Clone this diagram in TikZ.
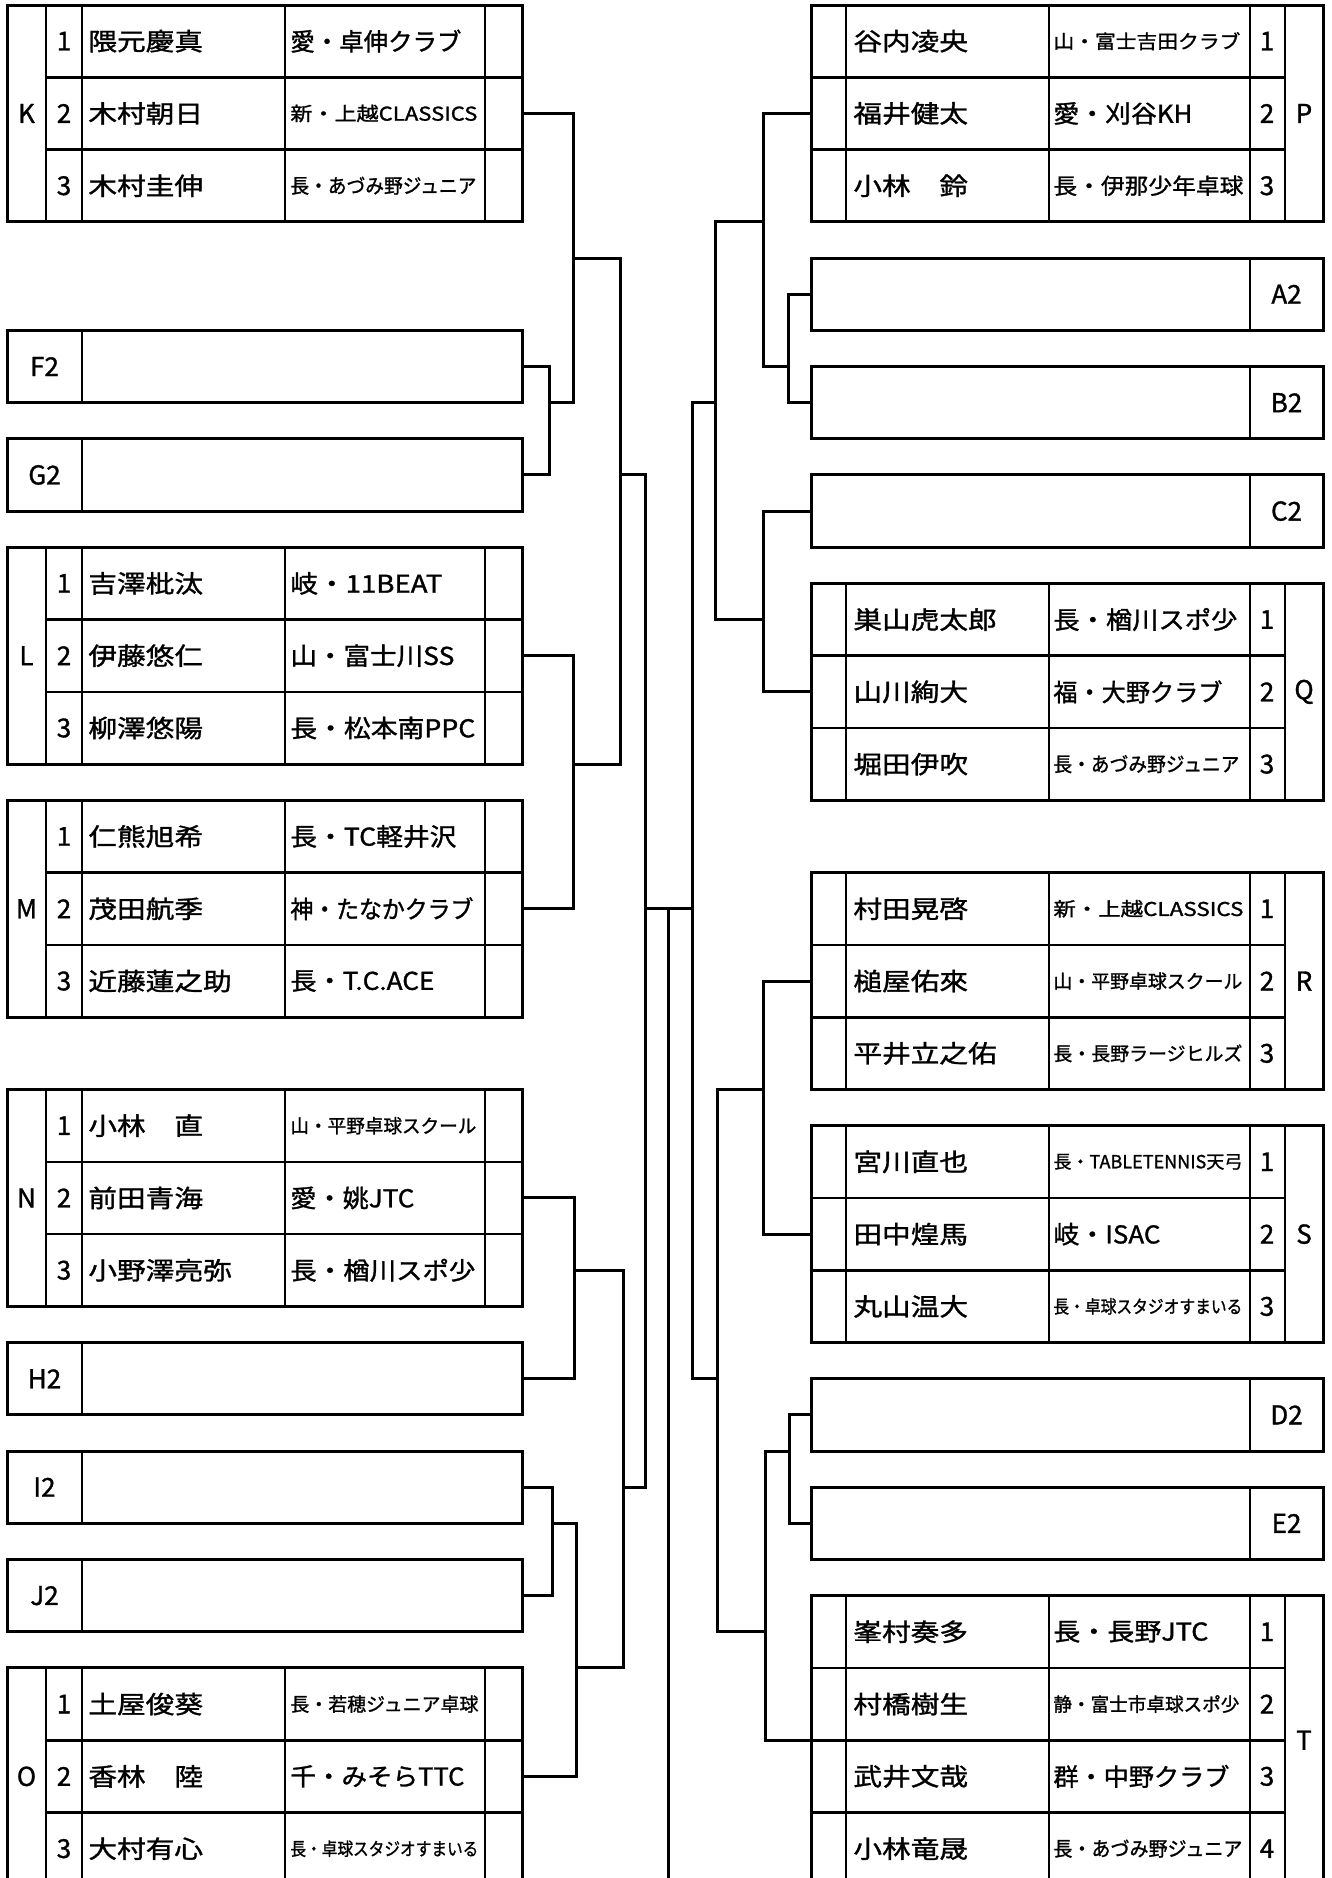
\documentclass[tikz,border=0pt]{standalone}
\usepackage{fontspec}
\usepackage{graphicx}
\setmainfont{Noto Sans CJK JP}
\newfontfamily\jpc[BoldFont={Noto Sans CJK JP}, BoldFeatures={FakeBold=1.2}]{Noto Sans CJK JP}
\usetikzlibrary{fit}

\newcommand\nm[1]{\scalebox{1.17}[1]{\fontsize{12.25pt}{12.25pt}\jpc\bfseries #1}}
\newcommand\cb[3]{\resizebox{#1pt}{\height}{\fontsize{#2pt}{#2pt}\jpc\bfseries #3}}

\tikzset{
  boxframe/.style={draw, line width=1.5pt, inner sep=0pt, outer sep=0pt},
  gridline/.style={line width=1.3pt},
  connector/.style={line width=1.5pt},
  lbl/.style={inner sep=0pt, font=\fontsize{13pt}{13pt}\jpc\bfseries},
  txt/.style={anchor=west, inner sep=0pt},
}

% left group with 3 rows: name, top k, letter
\newcommand\LGrp[3]{%
  \coordinate (#1-a) at (7,#2);
  \coordinate (#1-b) at (522,#2+6);
  \node[boxframe, fit=(#1-a)(#1-b)] (#1) {};
  \draw[gridline] (46,#2) -- (46,#2+6) (82,#2) -- (82,#2+6)
    (285,#2) -- (285,#2+6) (485,#2) -- (485,#2+6)
    (46,#2+2) -- (522,#2+2) (46,#2+4) -- (522,#2+4);
  \node[lbl] (#1-g) at (26.5,#2+3) {#3};
  \node[lbl] (#1-1) at (64,#2+1) {1};
  \node[lbl] (#1-2) at (64,#2+3) {2};
  \node[lbl] (#1-3) at (64,#2+5) {3};
}
% right group: name, top k, letter, rows
\newcommand\RGrp[4]{%
  \coordinate (#1-a) at (811,#2);
  \coordinate (#1-b) at (1323,#2+2*#4);
  \node[boxframe, fit=(#1-a)(#1-b)] (#1) {};
  \draw[gridline] (846,#2) -- (846,#2+2*#4) (1049,#2) -- (1049,#2+2*#4)
    (1250,#2) -- (1250,#2+2*#4) (1285,#2) -- (1285,#2+2*#4);
  \foreach \i in {1,...,#4} {\node[lbl] (#1-\i) at (1267,#2+2*\i-1) {\i};}
  \foreach \i in {2,...,#4} {\draw[gridline] (811,#2+2*\i-2) -- (1285,#2+2*\i-2);}
  \node[lbl] (#1-g) at (1304,#2+#4) {#3};
}
\newcommand\LPair[3]{%
  \coordinate (#1-a) at (7,#2);
  \coordinate (#1-b) at (522,#2+2);
  \node[boxframe, fit=(#1-a)(#1-b)] (#1) {};
  \draw[gridline] (82,#2) -- (82,#2+2);
  \node[lbl] (#1-g) at (44.5,#2+1) {#3};
}
\newcommand\RPair[3]{%
  \coordinate (#1-a) at (811,#2);
  \coordinate (#1-b) at (1323,#2+2);
  \node[boxframe, fit=(#1-a)(#1-b)] (#1) {};
  \draw[gridline] (1250,#2) -- (1250,#2+2);
  \node[lbl] (#1-g) at (1286.5,#2+1) {#3};
}

\begin{document}
\begin{tikzpicture}[x=0.5pt, y=-18.075pt]
\useasboundingbox (0,0) rectangle (1332,51.95);
\fill[white] (0,0) rectangle (1332,51.95);
\clip (0,0) rectangle (1332,51.95);
\begin{scope}[yshift=-2.5pt]

% ---------------- left side ----------------
\LGrp{K}{0}{K}
\node[txt] (K-n1) at (88,1) {\nm{隈元慶真}};
\node[txt] (K-n2) at (88,3) {\nm{木村朝日}};
\node[txt] (K-n3) at (88,5) {\nm{木村圭伸}};
\node[txt] (K-c1) at (290,1) {\cb{85.5}{12.25}{愛・卓伸クラブ}};
\node[txt] (K-c2) at (290,3) {\cb{93.5}{9.5}{新・上越CLASSICS}};
\node[txt] (K-c3) at (290,5) {\cb{93}{10}{長・あづみ野ジュニア}};

\LPair{F2}{9}{F2}
\LPair{G2}{12}{G2}

\LGrp{L}{15}{L}
\node[txt] (L-n1) at (88,16) {\nm{吉澤枇汰}};
\node[txt] (L-n2) at (88,18) {\nm{伊藤悠仁}};
\node[txt] (L-n3) at (88,20) {\nm{柳澤悠陽}};
\node[txt] (L-c1) at (290,16) {\cb{76}{12.25}{岐・11BEAT}};
\node[txt] (L-c2) at (290,18) {\cb{82}{12.25}{山・富士川SS}};
\node[txt] (L-c3) at (290,20) {\cb{92.5}{12.25}{長・松本南PPC}};

\LGrp{M}{22}{M}
\node[txt] (M-n1) at (88,23) {\nm{仁熊旭希}};
\node[txt] (M-n2) at (88,25) {\nm{茂田航季}};
\node[txt] (M-n3) at (88,27) {\nm{近藤蓮之助}};
\node[txt] (M-c1) at (290,23) {\cb{83}{12.25}{長・TC軽井沢}};
\node[txt] (M-c2) at (290,25) {\cb{91.5}{12.25}{神・たなかクラブ}};
\node[txt] (M-c3) at (290,27) {\cb{72}{12.25}{長・T.C.ACE}};

\LGrp{N}{30}{N}
\node[txt] (N-n1) at (88,31) {\nm{小林　直}};
\node[txt] (N-n2) at (88,33) {\nm{前田青海}};
\node[txt] (N-n3) at (88,35) {\nm{小野澤亮弥}};
\node[txt] (N-c1) at (290,31) {\cb{93}{9.5}{山・平野卓球スクール}};
\node[txt] (N-c2) at (290,33) {\cb{62}{12.25}{愛・姚JTC}};
\node[txt] (N-c3) at (290,35) {\cb{92.5}{12.25}{長・楢川スポ少}};

\LPair{H2}{37}{H2}
\LPair{I2}{40}{I2}
\LPair{J2}{43}{J2}

\LGrp{O}{46}{O}
\node[txt] (O-n1) at (88,47) {\nm{土屋俊葵}};
\node[txt] (O-n2) at (88,49) {\nm{香林　陸}};
\node[txt] (O-n3) at (88,51) {\nm{大村有心}};
\node[txt] (O-c1) at (290,47) {\cb{94}{9.5}{長・若穂ジュニア卓球}};
\node[txt] (O-c2) at (290,49) {\cb{87}{12.25}{千・みそらTTC}};
\node[txt] (O-c3) at (290,51) {\cb{94}{9}{長・卓球スタジオすまいる}};

% ---------------- right side ----------------
\RGrp{P}{0}{P}{3}
\node[txt] (P-n1) at (853,1) {\nm{谷内凌央}};
\node[txt] (P-n2) at (853,3) {\nm{福井健太}};
\node[txt] (P-n3) at (853,5) {\nm{小林　鈴}};
\node[txt] (P-c1) at (1053,1) {\cb{93.5}{9.5}{山・富士吉田クラブ}};
\node[txt] (P-c2) at (1053,3) {\cb{69.5}{12.25}{愛・刈谷KH}};
\node[txt] (P-c3) at (1053,5) {\cb{95}{11}{長・伊那少年卓球}};

\RPair{A2}{7}{A2}
\RPair{B2}{10}{B2}
\RPair{C2}{13}{C2}

\RGrp{Q}{16}{Q}{3}
\node[txt] (Q-n1) at (853,17) {\nm{巣山虎太郎}};
\node[txt] (Q-n2) at (853,19) {\nm{山川絢大}};
\node[txt] (Q-n3) at (853,21) {\nm{堀田伊吹}};
\node[txt] (Q-c1) at (1053,17) {\cb{92}{12.25}{長・楢川スポ少}};
\node[txt] (Q-c2) at (1053,19) {\cb{84.5}{12.25}{福・大野クラブ}};
\node[txt] (Q-c3) at (1053,21) {\cb{93}{10}{長・あづみ野ジュニア}};

\RGrp{R}{24}{R}{3}
\node[txt] (R-n1) at (853,25) {\nm{村田晃啓}};
\node[txt] (R-n2) at (853,27) {\nm{槌屋佑來}};
\node[txt] (R-n3) at (853,29) {\nm{平井立之佑}};
\node[txt] (R-c1) at (1053,25) {\cb{95}{9.5}{新・上越CLASSICS}};
\node[txt] (R-c2) at (1053,27) {\cb{94.5}{9.5}{山・平野卓球スクール}};
\node[txt] (R-c3) at (1053,29) {\cb{94.5}{9.5}{長・長野ラージヒルズ}};

\RGrp{S}{31}{S}{3}
\node[txt] (S-n1) at (853,32) {\nm{宮川直也}};
\node[txt] (S-n2) at (853,34) {\nm{田中煌馬}};
\node[txt] (S-n3) at (853,36) {\nm{丸山温大}};
\node[txt] (S-c1) at (1053,32) {\cb{94.5}{9}{長・TABLETENNIS天弓}};
\node[txt] (S-c2) at (1053,34) {\cb{53.5}{12.25}{岐・ISAC}};
\node[txt] (S-c3) at (1053,36) {\cb{94.5}{9}{長・卓球スタジオすまいる}};

\RPair{D2}{38}{D2}
\RPair{E2}{41}{E2}

\RGrp{T}{44}{T}{4}
\node[txt] (T-n1) at (853,45) {\nm{峯村奏多}};
\node[txt] (T-n2) at (853,47) {\nm{村橋樹生}};
\node[txt] (T-n3) at (853,49) {\nm{武井文哉}};
\node[txt] (T-n4) at (853,51) {\nm{小林竜晟}};
\node[txt] (T-c1) at (1053,45) {\cb{77.5}{12.25}{長・長野JTC}};
\node[txt] (T-c2) at (1053,47) {\cb{93}{9.5}{静・富士市卓球スポ少}};
\node[txt] (T-c3) at (1053,49) {\cb{88}{12.25}{群・中野クラブ}};
\node[txt] (T-c4) at (1053,51) {\cb{94.5}{10}{長・あづみ野ジュニア}};

% ---------------- junctions ----------------
\coordinate (jFG)  at (549,11);
\coordinate (jKFG) at (573,7);
\coordinate (jLM)  at (573,21);
\coordinate (jTL)  at (620,13);
\coordinate (jNH)  at (574,35);
\coordinate (jIJ)  at (552,42);
\coordinate (jIJO) at (576,46);
\coordinate (jBL)  at (623,41);
\coordinate (jSL)  at (645,25);
\coordinate (jAB)  at (788,10);
\coordinate (jPAB) at (763,6);
\coordinate (jCQ)  at (763,17);
\coordinate (jTR)  at (715,11);
\coordinate (jRS)  at (763,30);
\coordinate (jDE)  at (789,40);
\coordinate (jDET) at (765,45);
\coordinate (jBR)  at (717,38);
\coordinate (jSR)  at (692,25);
\coordinate (jF)   at (668,25);
\coordinate (jFend) at (668,53);

% ---------------- connectors ----------------
\draw[connector] (F2.east) -| (jFG) |- (G2.east);
\draw[connector] (K.east) -| (jKFG) |- (jFG);
\draw[connector] (L.east) -| (jLM) |- (M.east);
\draw[connector] (jKFG) -| (jTL) |- (jLM);
\draw[connector] (N.east) -| (jNH) |- (H2.east);
\draw[connector] (I2.east) -| (jIJ) |- (J2.east);
\draw[connector] (jIJ) -| (jIJO) |- (O.east);
\draw[connector] (jNH) -| (jBL) |- (jIJO);
\draw[connector] (jTL) -| (jSL) |- (jBL);

\draw[connector] (A2.west) -| (jAB) |- (B2.west);
\draw[connector] (P.west) -| (jPAB) |- (jAB);
\draw[connector] (C2.west) -| (jCQ) |- (Q.west);
\draw[connector] (jPAB) -| (jTR) |- (jCQ);
\draw[connector] (R.west) -| (jRS) |- (S.west);
\draw[connector] (D2.west) -| (jDE) |- (E2.west);
\draw[connector] (jDE) -| (jDET) |- (T.west);
\draw[connector] (jRS) -| (jBR) |- (jDET);
\draw[connector] (jTR) -| (jSR) |- (jBR);

\draw[connector] (jSL) -- (jSR);
\draw[connector] (jF) -- (jFend);

\end{scope}
\end{tikzpicture}
\end{document}
